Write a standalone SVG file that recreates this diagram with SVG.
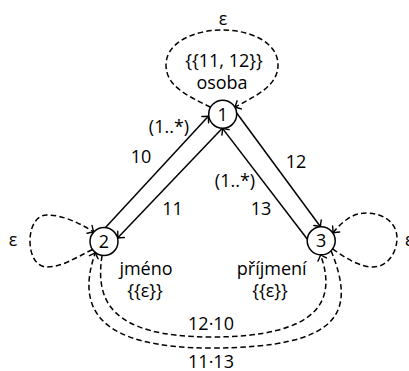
<svg xmlns="http://www.w3.org/2000/svg" width="409" height="371" viewBox="0 0 409 371">
<defs>
<marker id="arr" markerUnits="userSpaceOnUse" markerWidth="14" markerHeight="14" refX="0" refY="0" viewBox="-7 -7 14 14" orient="auto" overflow="visible">
<path d="M -5,-4.6 Q -1.2,-0.7 0,0 Q -1.2,0.7 -5,4.6" fill="none" stroke="#000" stroke-width="1.4" stroke-dasharray="none" stroke-linecap="round"/>
</marker>
</defs>
<style>
.node circle{fill:#fff;stroke:#000;stroke-width:1.5}
.node text,.lbl{font-family:"Open Sans","DejaVu Sans",sans-serif;font-size:18px;fill:#000;text-anchor:middle}
.sub{font-family:"Open Sans","DejaVu Sans",sans-serif;font-size:16.5px;fill:#333;text-anchor:middle}
.e{fill:none;stroke:#000;stroke-width:1.5;marker-end:url(#arr)}
.d{stroke-dasharray:5.5 3.2}
</style>
<g id="connectors">
<path id="e10" class="e" d="M 105.5,227.6 L 208.6,116"/>
<path id="e11" class="e" d="M 222.3,128.2 L 117.6,238"/>
<path id="e12" class="e" d="M 236.7,113 L 320.5,226.8"/>
<path id="e13" class="e" d="M 307.2,239 L 222.5,128.4"/>
<path id="loop1" class="e d" d="M 210.6,107.2 C 185,95 166,85 166,65 C 166,42 195,30 222,30 C 250,30 278,42 278,65 C 278,85 258,95 234.8,107.2"/>
<path id="loop2" class="e d" d="M 92.5,249.5 C 75,258 62,267 47,267 C 36,267 30,255 30,241 C 30,227 36,215 47,215 C 62,215 78,222 93.8,232"/>
<path id="loop3" class="e d" d="M 332.7,248.8 C 345,258 360,267 373,267 C 388,267 397,252 397,238 C 397,224 385,213 366,213 C 352,213 342,222 332.9,232.8"/>
<path id="e1210" class="e d" d="M 102.1,255.4 C 95,300 110,337 211,337 C 320,337 337,300 320.5,254.8"/>
<path id="e1113" class="e d" d="M 331.1,250.7 C 355,310 345,348 211,348 C 100,348 75,310 95.4,252.5"/>
<text class="lbl" x="223" y="25">ε</text>
<text class="lbl" x="169" y="133">(1..*)</text>
<text class="lbl" x="141" y="163">10</text>
<text class="lbl" x="172.5" y="215">11</text>
<text class="lbl" x="235" y="187">(1..*)</text>
<text class="lbl" x="261" y="215">13</text>
<text class="lbl" x="296" y="168">12</text>
<text class="lbl" x="13" y="246">ε</text>
<text class="lbl" x="405" y="246" style="text-anchor:start">ε</text>
<text class="lbl" x="211" y="330">12·10</text>
<text class="lbl" x="211" y="368">11·13</text>
</g>
<g id="n1" class="node">
<circle cx="222.7" cy="114.2" r="14"/>
<text x="222.7" y="120.5">1</text>
<text class="sub" x="224" y="66.5">{{11, 12}}</text>
<text x="222" y="89">osoba</text>
</g>
<g id="n2" class="node">
<circle cx="104" cy="241.5" r="14"/>
<text x="104" y="247.8">2</text>
<text x="146" y="275">jméno</text>
<text class="sub" x="145" y="297">{{ε}}</text>
</g>
<g id="n3" class="node">
<circle cx="321.2" cy="240.8" r="14"/>
<text x="321.2" y="247.1">3</text>
<text x="271.7" y="275">příjmení</text>
<text class="sub" x="270" y="297">{{ε}}</text>
</g>
</svg>
